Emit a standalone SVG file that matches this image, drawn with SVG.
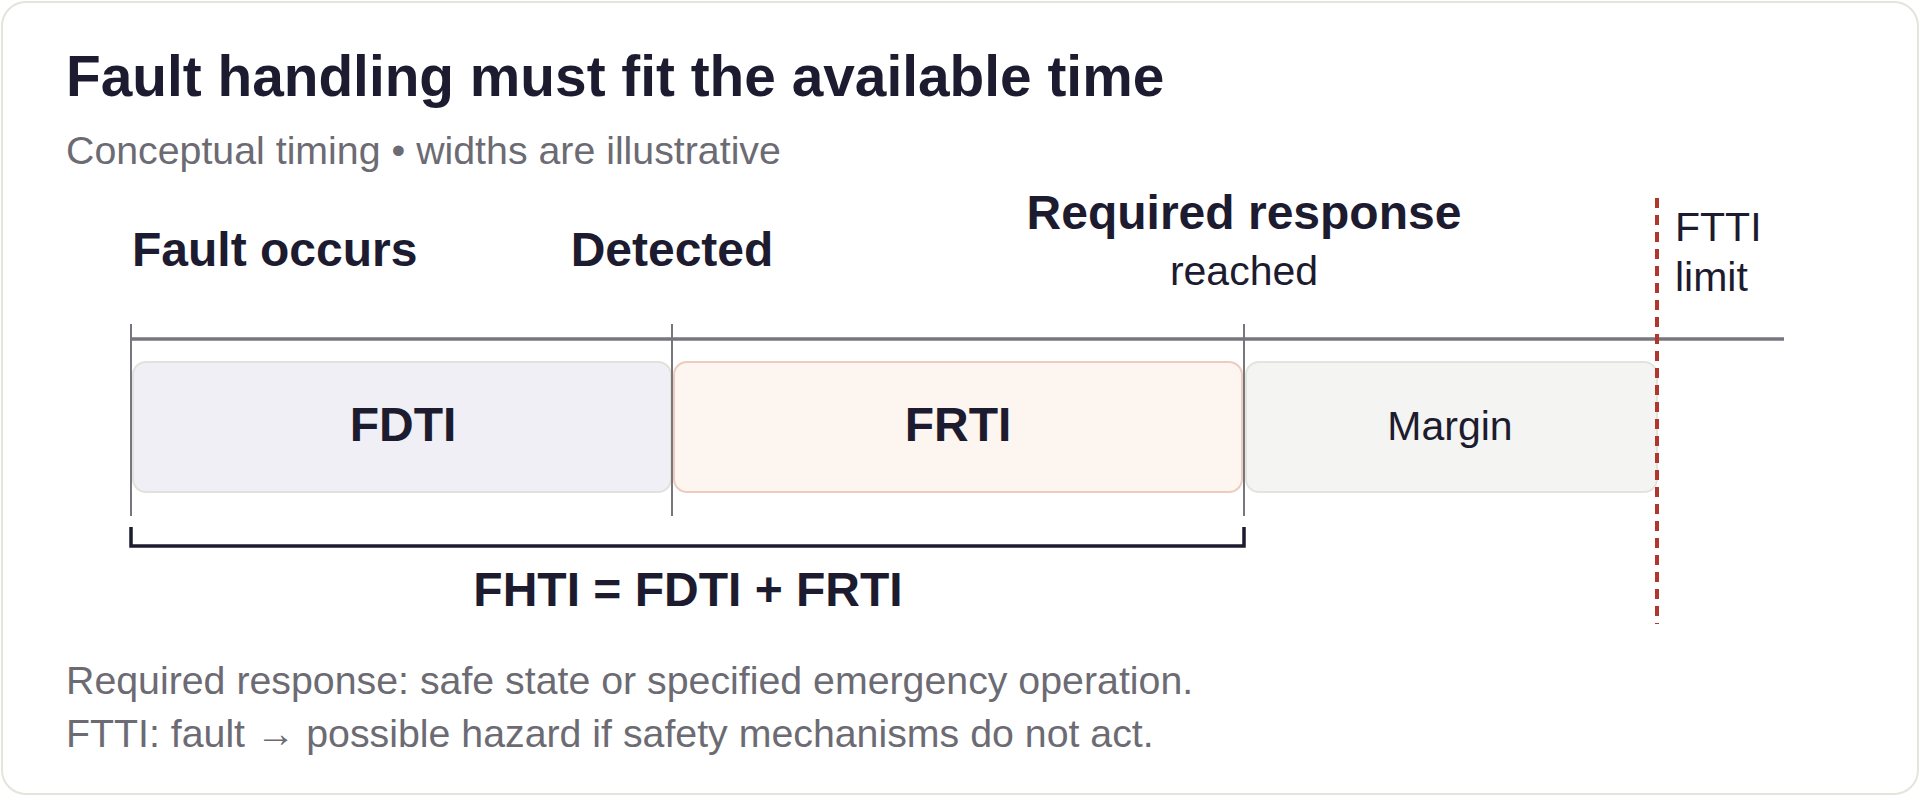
<svg xmlns="http://www.w3.org/2000/svg" width="1920" height="796" viewBox="0 0 1920 796">
<style>
text{font-family:"Liberation Sans",Arial,sans-serif;fill:#1d1b2f}
.b{font-weight:bold}
.lbl{font-size:48px;font-weight:bold}
.reg{font-size:41px}
.muted{fill:#6c6b73;font-size:39.3px}
.axis{stroke:#77767f;stroke-width:3.5;fill:none}
.tick{stroke:#77767f;stroke-width:2;fill:none}
</style>
<rect x="2" y="2" width="1916" height="792" rx="24" fill="#ffffff" stroke="#e4e4dc" stroke-width="2"/>
<text x="66" y="96" class="b" font-size="56.8">Fault handling must fit the available time</text>
<text x="66" y="164" class="muted">Conceptual timing • widths are illustrative</text>

<g id="fdti">
<rect x="133" y="362" width="538" height="130" rx="13" fill="#efeff5" stroke="#e2e2da" stroke-width="2"/>
<text x="403" y="441" class="lbl" text-anchor="middle" font-size="47">FDTI</text>
</g>
<g id="frti">
<rect x="674" y="362" width="568" height="130" rx="13" fill="#fdf5f0" stroke="#eecbbf" stroke-width="2"/>
<text x="958" y="441" class="lbl" text-anchor="middle" font-size="47">FRTI</text>
</g>
<g id="margin">
<rect x="1246" y="362" width="411" height="130" rx="13" fill="#f4f4f2" stroke="#e4e4de" stroke-width="2"/>
<text x="1450" y="440" class="reg" text-anchor="middle">Margin</text>
</g>

<g id="connectors">
<line x1="131" y1="339" x2="1784" y2="339" class="axis"/>
<line x1="131" y1="324" x2="131" y2="516" class="tick"/>
<line x1="672" y1="324" x2="672" y2="516" class="tick"/>
<line x1="1244" y1="324" x2="1244" y2="516" class="tick"/>
<line x1="1657" y1="198" x2="1657" y2="624" stroke="#b0372c" stroke-width="4" stroke-dasharray="10 7"/>
<path d="M131 527 V546 H1244 V527" fill="none" stroke="#1d1b2f" stroke-width="3.5"/>
</g>

<g id="fault-occurs"><text x="132" y="266" class="lbl">Fault occurs</text></g>
<g id="detected"><text x="672" y="266" class="lbl" text-anchor="middle">Detected</text></g>
<g id="required-response">
<text x="1244" y="229" class="lbl" text-anchor="middle">Required response</text>
<text x="1244" y="285" class="reg" text-anchor="middle">reached</text>
</g>
<g id="ftti">
<text x="1675" y="241" class="reg">FTTI</text>
<text x="1675" y="291" class="reg">limit</text>
</g>
<g id="fhti"><text x="688" y="606" class="lbl" text-anchor="middle">FHTI = FDTI + FRTI</text></g>

<text x="66" y="694" class="muted">Required response: safe state or specified emergency operation.</text>
<text x="66" y="747" class="muted">FTTI: fault → possible hazard if safety mechanisms do not act.</text>
</svg>
